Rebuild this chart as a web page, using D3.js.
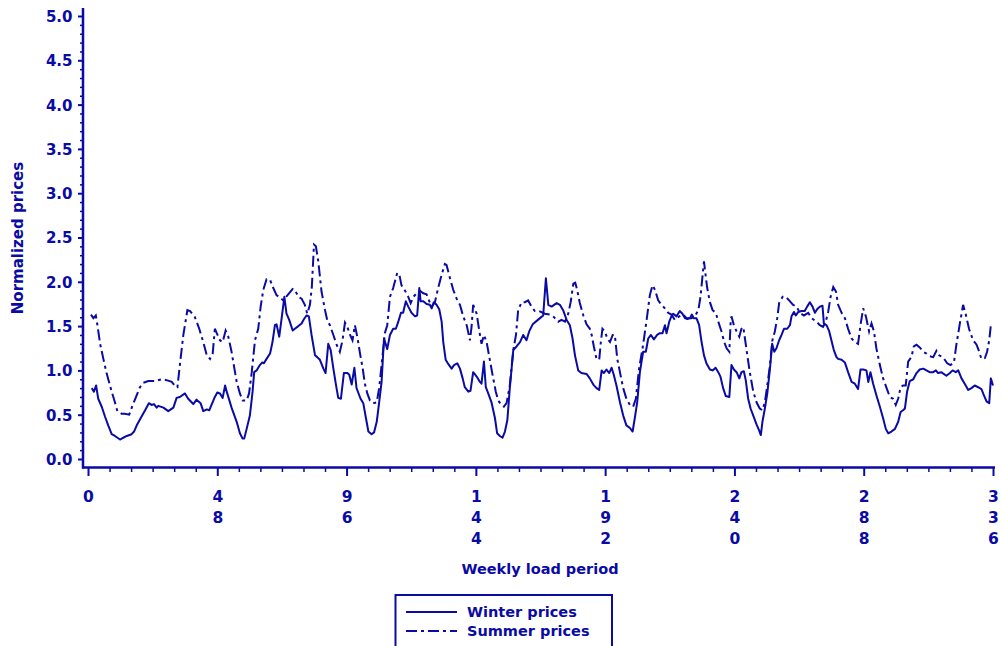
<!DOCTYPE html>
<html>
<head>
<meta charset="utf-8">
<script src="https://cdn.jsdelivr.net/npm/d3@7/dist/d3.min.js"></script>
<style>
  html, body { margin: 0; padding: 0; background: #fff; }
  svg { display: block; }
  text { font-family: "DejaVu Sans", Verdana, sans-serif; font-weight: bold; fill: #0a0aa5; }
</style>
</head>
<body>
<svg id="chart" width="1002" height="646"></svg>
<script>
// Weekly load period (half-hour index) and normalized winter prices
const winterPeriod = [1.4,2.2,3.0,3.8,5.1,6.3,7.5,8.8,10.0,11.9,13.1,14.4,16.2,17.1,18.1,19.9,21.2,22.6,23.6,24.5,25.5,26.1,28.0,29.8,31.7,32.9,34.1,36.0,37.2,39.1,40.3,41.8,42.8,44.1,45.0,47.1,48.0,49.0,50.0,50.9,51.5,53.3,
  55.2,56.4,57.4,58.0,58.9,60.1,61.1,61.7,62.6,63.8,64.7,65.3,66.3,67.6,68.5,69.4,70.0,71.0,71.9,72.9,73.7,74.7,76.0,76.8,78.1,79.3,80.2,81.2,82.0,83.0,84.3,85.1,86.1,87.4,88.2,89.2,90.1,91.1,92.1,92.9,93.9,95.0,96.3,97.0,97.9,98.9,99.7,101.2,102.2,103.2,104.1,105.3,106.2,107.2,108.1,109.0,109.9,
  111.1,112.1,113.3,114.3,115.2,116.2,117.0,118.0,118.9,120.1,121.4,122.2,123.0,123.5,124.5,125.7,126.9,127.6,128.4,129.4,130.4,131.3,131.9,132.8,133.8,135.0,135.9,137.1,138.1,139.1,139.9,141.2,142.0,143.0,144.3,145.3,146.1,147.0,147.7,148.6,149.8,151.1,151.9,152.9,153.9,154.8,155.7,156.6,157.9,159.1,160.4,161.6,162.8,163.8,165.1,
  167.8,169.0,170.0,170.9,172.1,174.0,175.2,176.4,177.7,178.9,179.9,180.8,182.0,183.2,185.1,186.3,187.6,188.8,189.8,190.7,191.5,192.5,193.5,194.4,195.2,196.2,197.5,198.7,199.9,201.2,202.2,203.0,203.9,204.9,206.1,207.1,208.0,209.0,210.1,211.3,212.3,213.3,214.2,214.8,215.8,216.6,217.3,218.5,219.7,220.7,221.6,
  222.5,223.5,224.2,224.9,225.9,226.9,227.8,228.7,229.6,230.9,231.9,233.0,234.0,234.8,235.8,236.8,238.1,238.9,239.8,240.8,241.8,242.6,243.5,244.2,245.1,246.0,247.0,248.2,249.2,249.8,250.4,251.3,252.2,253.2,254.0,254.8,255.6,256.6,257.5,258.4,259.6,260.6,261.2,262.1,262.8,263.7,264.9,266.1,267.0,268.0,269.0,269.9,270.7,271.7,272.7,273.2,274.2,275.2,276.0,276.9,277.9,
  278.5,279.8,281.0,282.2,283.5,284.7,285.9,286.8,287.8,289.0,289.7,290.5,291.5,292.7,294.0,295.2,296.2,297.1,298.3,299.6,300.8,301.7,302.6,303.3,304.1,305.1,306.4,307.6,308.8,310.1,311.3,312.5,313.8,314.8,315.6,316.9,317.7,318.7,320.0,321.0,322.2,323.1,324.3,325.5,326.8,328.0,329.2,330.5,331.7,332.6,333.6,334.6,335.2,336.0];
const winterPrice = [0.80,0.76,0.83,0.68,0.59,0.48,0.38,0.28,0.26,0.22,0.24,0.26,0.28,0.31,0.38,0.48,0.55,0.63,0.61,0.62,0.58,0.60,0.58,0.54,0.58,0.69,0.70,0.74,0.68,0.62,0.67,0.63,0.54,0.56,0.55,0.70,0.75,0.74,0.69,0.83,0.76,0.58,
  0.42,0.29,0.23,0.23,0.34,0.49,0.76,0.98,1.00,1.06,1.09,1.08,1.13,1.19,1.32,1.51,1.52,1.38,1.59,1.83,1.64,1.57,1.45,1.47,1.50,1.53,1.58,1.62,1.61,1.40,1.17,1.15,1.12,1.02,0.97,1.30,1.23,1.02,0.83,0.69,0.68,0.97,0.97,0.95,0.84,1.03,0.80,0.68,0.63,0.46,0.31,0.28,0.30,0.42,0.64,0.87,1.36,
  1.24,1.40,1.47,1.47,1.55,1.65,1.65,1.78,1.72,1.65,1.61,1.62,1.93,1.78,1.78,1.75,1.74,1.70,1.77,1.74,1.69,1.55,1.32,1.12,1.07,1.02,1.06,1.08,1.02,0.91,0.81,0.76,0.77,0.98,0.93,0.88,0.85,1.10,0.81,0.74,0.64,0.46,0.29,0.26,0.24,0.31,0.44,0.80,1.23,1.27,1.32,1.40,1.34,1.44,1.52,
  1.59,1.62,2.04,1.74,1.72,1.76,1.74,1.68,1.57,1.51,1.36,1.17,1.00,0.97,0.96,0.91,0.84,0.80,0.78,1.00,0.97,1.01,0.97,1.03,0.95,0.83,0.64,0.49,0.38,0.35,0.31,0.46,0.64,0.98,1.21,1.21,1.36,1.40,1.35,1.40,1.42,1.42,1.51,1.42,1.55,1.61,1.64,1.61,1.67,1.64,1.59,
  1.58,1.59,1.63,1.59,1.59,1.51,1.32,1.17,1.08,1.01,1.00,1.03,0.98,0.93,0.80,0.71,0.70,1.06,1.01,0.98,0.91,0.98,0.99,0.89,0.68,0.57,0.49,0.39,0.32,0.27,0.42,0.57,0.74,1.02,1.30,1.21,1.25,1.34,1.40,1.47,1.47,1.51,1.61,1.66,1.62,1.66,1.67,1.67,1.72,1.77,1.72,1.65,1.69,1.72,1.73,1.53,1.51,1.44,1.34,1.23,1.15,
  1.13,1.12,1.09,0.98,0.87,0.85,0.79,1.01,1.01,1.00,0.87,0.98,0.85,0.72,0.59,0.46,0.34,0.29,0.31,0.34,0.42,0.53,0.55,0.57,0.76,0.88,0.90,0.97,1.01,1.02,1.00,0.98,0.98,1.00,0.97,0.98,0.96,0.94,0.97,1.00,0.98,1.00,0.91,0.85,0.78,0.80,0.83,0.81,0.79,0.72,0.65,0.63,0.91,0.83];

// Normalized summer prices
const summerPeriod = [1.1,2.0,2.9,3.5,4.5,5.7,6.9,8.8,10.0,10.9,12.5,13.7,15.3,16.6,18.1,19.3,20.5,22.4,24.9,27.3,29.2,31.1,32.7,33.2,34.1,35.4,36.9,37.9,39.7,41.3,42.8,44.1,45.3,46.3,47.1,47.8,49.0,50.0,51.1,52.1,53.3,
  55.2,56.4,57.4,58.9,59.8,60.8,62.0,63.2,64.1,65.1,66.3,67.6,68.8,70.0,71.3,72.5,74.4,76.0,76.8,78.1,79.3,80.5,81.4,82.4,83.1,83.9,84.6,85.5,86.7,88.0,88.8,89.8,91.1,92.3,93.5,94.5,95.4,96.3,97.3,98.2,99.1,100.1,101.0,102.0,102.8,103.7,104.7,105.9,107.2,108.1,109.0,
  110.2,111.1,112.1,113.3,114.8,115.6,116.4,117.7,118.9,119.8,120.8,122.0,123.2,124.5,125.7,126.3,127.6,128.8,130.0,131.3,132.5,133.1,134.4,135.6,137.1,138.1,139.3,140.6,141.8,142.4,143.0,144.3,145.3,146.1,147.0,148.0,149.0,150.2,151.4,152.3,153.5,154.4,155.4,156.6,157.9,158.9,159.7,161.0,162.2,163.4,164.7,165.9,
  167.5,169.6,171.5,172.7,174.6,175.8,177.1,178.3,179.2,180.2,180.9,181.6,182.6,183.9,185.1,186.3,187.0,187.8,188.8,189.8,190.4,191.0,191.9,192.8,193.8,194.8,195.6,196.5,197.5,198.7,199.9,201.2,202.4,203.4,204.6,206.1,207.4,208.6,209.6,210.5,211.7,212.9,214.2,215.4,216.6,217.9,219.5,221.0,
  222.2,224.1,225.3,226.6,227.4,228.2,228.7,229.2,229.9,230.9,231.9,233.1,234.0,235.2,236.2,237.1,238.1,238.6,238.9,239.8,240.8,241.8,242.6,243.3,243.9,244.7,245.7,247.0,248.2,249.4,250.4,251.3,252.2,253.2,254.1,255.0,255.9,256.6,257.9,259.1,260.3,261.8,263.1,264.3,265.8,267.4,268.6,270.5,271.7,272.9,273.9,274.8,275.7,276.7,277.7,
  278.5,279.8,281.0,282.2,283.5,284.7,285.9,286.8,287.8,288.8,290.0,290.9,291.8,292.7,294.0,295.2,296.5,297.7,298.9,299.9,300.8,301.7,302.6,303.6,304.5,305.7,306.6,307.6,308.8,310.1,311.3,312.5,313.8,315.0,316.0,317.3,318.1,319.0,320.2,321.5,322.4,323.7,324.9,325.9,327.1,328.6,329.9,330.9,331.7,333.0,333.8,334.6,335.2];
const summerPrice = [1.63,1.59,1.62,1.51,1.30,1.13,0.97,0.76,0.64,0.54,0.51,0.51,0.50,0.61,0.72,0.81,0.86,0.88,0.88,0.90,0.89,0.87,0.81,0.81,1.06,1.40,1.68,1.67,1.60,1.47,1.32,1.17,1.13,1.19,1.47,1.42,1.34,1.32,1.45,1.38,1.21,
  0.87,0.74,0.66,0.66,0.74,0.98,1.34,1.47,1.72,1.91,2.03,2.02,1.93,1.85,1.82,1.79,1.86,1.92,1.91,1.83,1.81,1.74,1.64,1.74,1.94,2.42,2.40,2.23,1.89,1.68,1.57,1.51,1.40,1.29,1.21,1.34,1.54,1.49,1.40,1.34,1.51,1.36,1.19,1.02,0.85,0.74,0.66,0.63,0.64,0.80,1.06,
  1.42,1.51,1.83,1.93,2.10,2.08,1.96,1.90,1.83,1.76,1.83,1.87,1.90,1.87,1.86,1.81,1.72,1.77,1.93,2.08,2.20,2.19,2.04,1.91,1.79,1.74,1.61,1.51,1.34,1.49,1.74,1.64,1.44,1.30,1.40,1.32,1.15,0.95,0.76,0.66,0.61,0.59,0.63,0.83,1.23,1.40,1.68,1.77,1.77,1.79,1.72,1.67,
  1.67,1.64,1.63,1.61,1.55,1.57,1.55,1.64,1.77,1.98,1.99,1.91,1.76,1.62,1.52,1.47,1.40,1.27,1.13,1.12,1.32,1.47,1.44,1.36,1.32,1.40,1.40,1.13,0.98,0.80,0.68,0.61,0.59,0.68,1.02,1.29,1.57,1.85,1.96,1.91,1.79,1.74,1.70,1.65,1.63,1.57,1.61,1.63,
  1.59,1.59,1.61,1.68,1.83,2.08,2.23,2.10,1.93,1.77,1.68,1.65,1.55,1.44,1.32,1.25,1.21,1.55,1.61,1.51,1.44,1.38,1.47,1.49,1.36,1.19,0.98,0.76,0.64,0.57,0.55,0.64,0.83,1.06,1.34,1.44,1.59,1.76,1.83,1.83,1.79,1.74,1.72,1.65,1.62,1.65,1.59,1.55,1.51,1.49,1.55,1.66,1.83,1.94,1.89,
  1.74,1.65,1.59,1.47,1.36,1.32,1.30,1.51,1.70,1.61,1.44,1.53,1.44,1.25,1.06,0.91,0.80,0.70,0.68,0.61,0.68,0.81,0.83,0.83,1.10,1.15,1.27,1.29,1.26,1.21,1.19,1.16,1.15,1.22,1.17,1.15,1.12,1.08,1.06,1.09,1.29,1.53,1.74,1.63,1.47,1.34,1.29,1.21,1.13,1.14,1.21,1.34,1.51];

const yMajorTicks = [0, 0.5, 1, 1.5, 2, 2.5, 3, 3.5, 4, 4.5, 5];
const xMajorTicks = [0, 48, 96, 144, 192, 240, 288, 336];
const seriesNames = ["Winter prices", "Summer prices"];

const ink = "#0a0aa5";
const svg = d3.select("#chart");

const x = d3.scaleLinear().domain([0, 336]).range([88, 993]);
const y = d3.scaleLinear().domain([0, 5]).range([459, 16]);

// axis frame lines
svg.append("line").attr("x1", 83).attr("x2", 83).attr("y1", 8).attr("y2", 468.5)
  .attr("stroke", ink).attr("stroke-width", 2.5);
svg.append("line").attr("x1", 82).attr("x2", 995).attr("y1", 467.5).attr("y2", 467.5)
  .attr("stroke", ink).attr("stroke-width", 2.5);

// Y axis: major ticks with labels, minor ticks every 0.1
const yMinor = d3.range(0, 5.0001, 0.1).filter(v => Math.abs(v * 2 - Math.round(v * 2)) > 1e-6);
const yAxisMajor = d3.axisLeft(y).tickValues(yMajorTicks).tickFormat(d3.format(".1f")).tickSize(5).tickPadding(5.5);
const gy = svg.append("g").attr("transform", "translate(83,0)").call(yAxisMajor);
gy.select(".domain").remove();
gy.selectAll(".tick line").attr("stroke", ink).attr("stroke-width", 2);
gy.selectAll(".tick text").attr("fill", ink).style("font-size", "15px").style("font-weight", "bold")
  .style("font-family", "'DejaVu Sans', Verdana, sans-serif").attr("dy", "0.36em");
const gyMinor = svg.append("g").attr("transform", "translate(83,0)")
  .call(d3.axisLeft(y).tickValues(yMinor).tickSize(3).tickFormat(""));
gyMinor.select(".domain").remove();
gyMinor.selectAll(".tick line").attr("stroke", ink).attr("stroke-width", 1.5);

// X axis: major ticks every 48 with digits stacked vertically, minor every 8
const xMinor = d3.range(0, 337, 8).filter(v => v % 48 !== 0);
const gx = svg.append("g").attr("transform", "translate(0,468)")
  .call(d3.axisBottom(x).tickValues(xMajorTicks).tickSize(8).tickFormat(""));
gx.select(".domain").remove();
gx.selectAll(".tick line").attr("stroke", ink).attr("stroke-width", 2);
gx.selectAll(".tick").each(function (d) {
  const t = d3.select(this).append("text").attr("text-anchor", "middle")
    .style("font-size", "15.5px").attr("fill", ink);
  String(d).split("").forEach((ch, i) => {
    t.append("tspan").attr("x", 0).attr("y", 34 + i * 21).text(ch);
  });
});
const gxMinor = svg.append("g").attr("transform", "translate(0,468)")
  .call(d3.axisBottom(x).tickValues(xMinor).tickSize(4).tickFormat(""));
gxMinor.select(".domain").remove();
gxMinor.selectAll(".tick line").attr("stroke", ink).attr("stroke-width", 1.5);

// axis titles
svg.append("text").attr("x", 540).attr("y", 574).attr("text-anchor", "middle")
  .style("font-size", "14.5px").text("Weekly load period");
svg.append("text").attr("transform", "translate(23,238) rotate(-90)").attr("text-anchor", "middle")
  .style("font-size", "15px").text("Normalized prices");

// price lines
const line = d3.line().x(d => x(d[0])).y(d => y(d[1]));
const winter = winterPeriod.map((p, i) => [p, winterPrice[i]]);
const summer = summerPeriod.map((p, i) => [p, summerPrice[i]]);
const summerDash = "11,4,3,4";

svg.append("path").datum(summer).attr("d", line).attr("fill", "none")
  .attr("stroke", ink).attr("stroke-width", 2).attr("stroke-dasharray", summerDash);
svg.append("path").datum(winter).attr("d", line).attr("fill", "none")
  .attr("stroke", ink).attr("stroke-width", 2).attr("stroke-linejoin", "round");

// legend
const lg = svg.append("g");
lg.append("rect").attr("x", 395.5).attr("y", 595).attr("width", 216.5).attr("height", 70)
  .attr("fill", "none").attr("stroke", ink).attr("stroke-width", 2);
const legendDash = [null, summerDash];
seriesNames.forEach((name, i) => {
  const yy = 612 + i * 19;
  lg.append("line").attr("x1", 406).attr("x2", 457).attr("y1", yy).attr("y2", yy)
    .attr("stroke", ink).attr("stroke-width", 2).attr("stroke-dasharray", legendDash[i]);
  lg.append("text").attr("x", 467).attr("y", yy + 5).style("font-size", "14.5px").text(name);
});
</script>
</body>
</html>
